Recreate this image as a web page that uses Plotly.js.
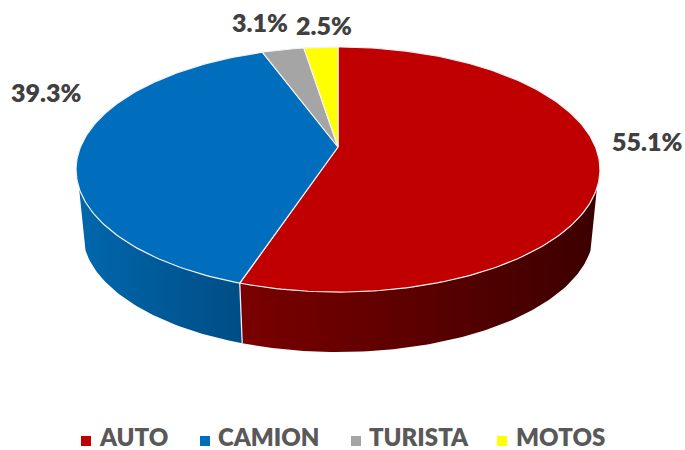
<!DOCTYPE html>
<html>
<head>
<meta charset="utf-8">
<script src="https://cdn.plot.ly/plotly-3.0.1.min.js"></script>
<style>html,body{margin:0;padding:0;background:#fff}#c{width:685px;height:450px}</style>
</head>
<body>
<div id="c"></div>
<script>
// data
const categories = ['AUTO', 'CAMION', 'TURISTA', 'MOTOS'];
const values = [55.1, 39.3, 3.1, 2.5];
// styles
const colors = ['#c00000', '#006ebd', '#a5a5a5', '#ffff00'];
const wallLeft = ['#7a0000', '#0067ac', '#8a8a8a', '#bbbb00'];
const wallRight = ['#3c0000', '#004d85', '#666666', '#888800'];
const font = 'Lato, Carlito, "Open Sans", sans-serif';

// perspective disc projection (page-pixel axes)
const cx = 338, cy = 147, A = 257.5, B = 118.4, P = 0.1837;
const wallScale = 0.975, wallDrop = 63.6;
const wallFrom = 109, wallTo = 251;
function rim(t) {
  const r = t * Math.PI / 180, u = Math.sin(r), v = Math.cos(r), w = 1 + P * v;
  return [A * u / w, B * v / w];
}
const topPt = t => { const p = rim(t); return [cx + p[0], cy - p[1]]; };
const lowPt = t => { const p = rim(t); return [cx + wallScale * p[0], cy - wallScale * p[1] + wallDrop]; };
function arc(a, b, fn) {
  const n = Math.max(2, Math.ceil(Math.abs(b - a))), out = [];
  for (let i = 0; i <= n; i++) out.push(fn(a + (b - a) * i / n));
  return out;
}

const total = values.reduce((s, v) => s + v, 0);
let acc = 0;
const spans = values.map(v => { const s = acc; acc += v / total * 360; return [s, acc]; });

const traces = [];
// side walls
spans.forEach((sp, i) => {
  const a = Math.max(sp[0], wallFrom), b = Math.min(sp[1], wallTo);
  if (b <= a) return;
  const pts = arc(a, b, topPt).concat(arc(b, a, lowPt));
  pts.push(pts[0]);
  traces.push({
    type: 'scatter', mode: 'lines', x: pts.map(p => p[0]), y: pts.map(p => p[1]),
    fill: 'toself', line: {width: 0}, showlegend: false, hoverinfo: 'skip',
    fillgradient: {type: 'horizontal', colorscale: [[0, wallLeft[i]], [1, wallRight[i]]]}
  });
});
// wall separators
spans.forEach(sp => {
  const t = sp[1];
  if (t > wallFrom && t < wallTo) {
    const a = topPt(t), b = lowPt(t);
    traces.push({type: 'scatter', mode: 'lines', x: [a[0], b[0]], y: [a[1], b[1]],
      line: {color: '#e8eef2', width: 1.3}, showlegend: false, hoverinfo: 'skip'});
  }
});
// top face
spans.forEach((sp, i) => {
  const pts = [[cx, cy]].concat(arc(sp[0], sp[1], topPt));
  pts.push([cx, cy]);
  traces.push({
    type: 'scatter', mode: 'lines', x: pts.map(p => p[0]), y: pts.map(p => p[1]),
    fill: 'toself', fillcolor: colors[i], line: {color: '#f2f2f2', width: 1.2},
    name: categories[i], showlegend: false, hoverinfo: 'name'
  });
});

// legend
const legendMarkX = [86, 205, 356, 502];
const legendTextX = [100, 218, 369, 516];
const legendY = 440;
traces.push({
  type: 'scatter', mode: 'markers', x: legendMarkX, y: legendMarkX.map(() => 441),
  marker: {symbol: 'square', size: 10, color: colors}, showlegend: false, hoverinfo: 'skip'
});
traces.push({
  type: 'scatter', mode: 'text', x: legendTextX, y: legendTextX.map(() => legendY),
  text: categories, textposition: 'middle right', cliponaxis: false,
  textfont: {family: font, size: 24, color: '#595959', weight: 800},
  showlegend: false, hoverinfo: 'skip'
});

const annotations = [];
// data labels
const labelX = [647, 46, 260, 324];
const labelY = [141, 92, 22, 25];
values.forEach((v, i) => annotations.push({
  x: labelX[i], y: labelY[i], xref: 'x', yref: 'y', xanchor: 'center', yanchor: 'middle',
  text: v.toFixed(1) + '%', showarrow: false,
  font: {family: font, size: 25, color: '#404040', weight: 800}
}));

Plotly.newPlot('c', traces, {
  width: 685, height: 450,
  margin: {l: 0, r: 0, t: 0, b: 0},
  paper_bgcolor: '#fff', plot_bgcolor: '#fff',
  xaxis: {range: [0, 685], visible: false, fixedrange: true},
  yaxis: {range: [450, 0], visible: false, fixedrange: true},
  annotations: annotations, showlegend: false
}, {displayModeBar: false, responsive: false});
</script>
</body>
</html>
